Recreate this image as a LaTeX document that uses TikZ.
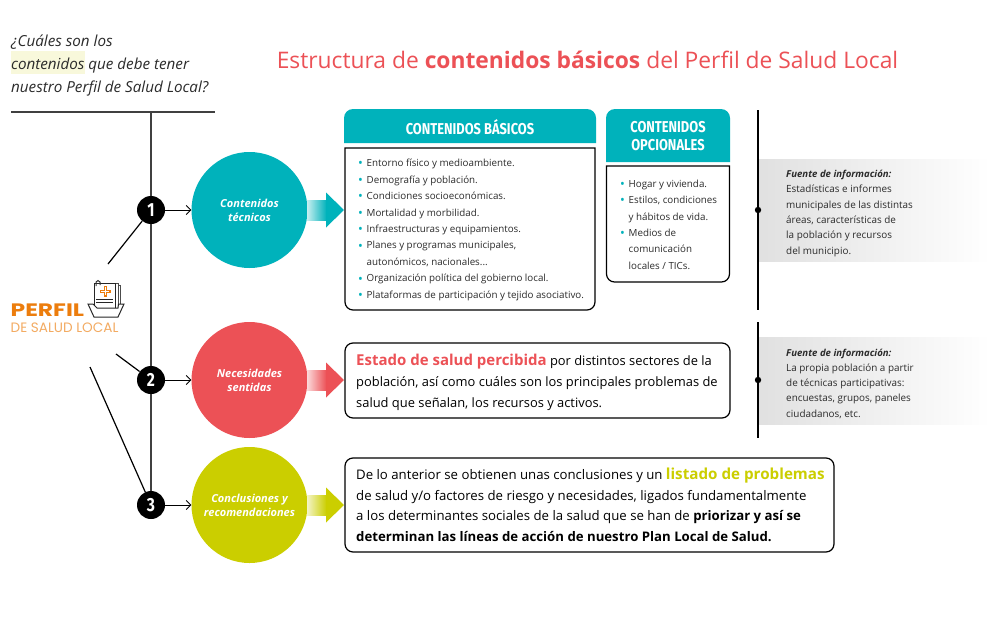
\documentclass[tikz,border=0pt]{standalone}
\usepackage{fontspec}
\setmainfont{Open Sans}
\newfontfamily\headfont[FakeStretch=0.82]{Fira Sans}
\newfontfamily\logofont{Poppins}
\usetikzlibrary{arrows.meta,shapes.misc}
\definecolor{cteal}{HTML}{00B2BB}
\definecolor{cred}{HTML}{EC5156}
\definecolor{cgreen}{HTML}{CBCE00}
\definecolor{corange}{HTML}{EC7D0D}
\definecolor{ctext}{HTML}{2B2B2B}
\newcommand{\bul}{\makebox[8.5pt][l]{\textcolor{cteal}{\raisebox{-1.2pt}{\scalebox{1.3}{\textbullet}}}}}
\newcommand{\ind}{\hspace*{8.5pt}}
\tikzset{
 x=1pt,y=-1pt,
 numdot/.style={circle,fill=black,text=white,minimum size=28pt,inner sep=0pt,font=\headfont\bfseries\fontsize{19}{19}\selectfont},
 bigcirc/.style={circle,minimum size=116pt,inner sep=0pt,text=white,align=center,font=\fontsize{11}{14}\selectfont\bfseries\itshape},
 thin line/.style={draw=black,line width=1.2pt},
 gline/.style={draw=black!75,line width=1.4pt},
 conn/.style={draw=black,line width=1pt,-{Straight Barb[length=4.5pt,width=9pt,line width=.9pt]}},
 txtbox/.style={draw=black,line width=1.2pt,rounded corners=8pt},
 listtxt/.style={anchor=north west,inner sep=0pt,align=left,text=ctext,font=\fontsize{9.8}{16.45}\selectfont},
 srctxt/.style={anchor=north west,inner sep=0pt,align=left,text=ctext,font=\fontsize{9.9}{15.3}\selectfont},
 bodytxt/.style={anchor=north west,inner sep=0pt,align=left,text=black,font=\fontsize{12.9}{21}\selectfont},
 headtxt/.style={text=white,align=center,inner sep=0pt,font=\headfont\bfseries\fontsize{15.7}{18}\selectfont},
}
\begin{document}
\begin{tikzpicture}
\useasboundingbox (0,0) rectangle (998,634);
\fill[white] (0,0) rectangle (998,634);
% grey bands
\shade[left color=black!12,right color=white] (759,159) rectangle (990,261);
\shade[left color=black!12,right color=white] (759,337) rectangle (990,424);
% question
\fill[cgreen!14] (11,51) rectangle (85,74);
\node[anchor=north west,inner sep=0pt,align=left,text=ctext,font=\fontsize{15.2}{23}\selectfont\itshape] (question) at (11,35) {¿Cuáles son los\\contenidos que debe tener\\nuestro Perfil de Salud Local?};
% title
\node[anchor=center,inner sep=0pt,text=cred,font=\fontsize{22.8}{26}\selectfont] (title) at (587.5,60) {Estructura de \textbf{contenidos básicos} del Perfil de Salud Local};
% rules
\coordinate (ruleL) at (11,112);
\coordinate (ruleR) at (215,112);
\coordinate (ruleM) at (151,112);
\draw[gline] (ruleL) -- (ruleR);
% numbers
\node[numdot] (n1) at (151,210) {1};
\node[numdot] (n2) at (151,380) {2};
\node[numdot] (n3) at (151,505) {3};
\draw[gline] (ruleM) -- (n1);
\draw[gline] (n1) -- (n2);
\draw[gline] (n2) -- (n3);
% big circles
\node[bigcirc,fill=cteal] (c1) at (249.5,210) {Contenidos\\técnicos};
\node[bigcirc,fill=cred] (c2) at (249.5,380) {Necesidades\\sentidas};
\node[bigcirc,fill=cgreen] (c3) at (249.5,505) {Conclusiones y\\recomendaciones};
\draw[conn] (n1) -- (c1);
\draw[conn] (n2) -- (c2);
\draw[conn] (n3) -- (c3);
% lines from logo
\coordinate (p1) at (108,264);
\coordinate (p2) at (116,354);
\coordinate (p3) at (90,367);
\draw[thin line] (p1) -- (n1);
\draw[thin line] (p2) -- (n2);
\draw[thin line] (p3) -- (n3);
% logo
\node[anchor=west,inner sep=0pt,text=corange,font=\logofont\bfseries\fontsize{18}{18}\selectfont] (perfil) at (10.5,310) {\scalebox{1.3}[1]{PERFIL}};
\node[anchor=west,inner sep=0pt,text=corange!65,font=\logofont\fontsize{13.6}{14}\selectfont] (salud) at (10.5,327.5) {DE SALUD LOCAL};
% icon
\begin{scope}[line width=.8pt,draw=black!85]
\draw[black!70] (115,283) -- (118,283) -- (118,306);
\draw[black!70] (118,285) -- (120,285) -- (120,304);
\draw[fill=white] (94,283) -- (115,283) -- (115,309) -- (94,309) -- cycle;
\draw[line width=1pt,black!80] (96,286) -- (96,282) -- (98,280.5) -- (100,282) -- (100,285);
\fill[corange] (103.5,286) rectangle (107,296.5);
\fill[corange] (100,289.5) rectangle (110.5,293);
\fill[white] (104.6,287.2) rectangle (105.9,295.3);
\fill[white] (101.2,290.6) rectangle (109.3,291.9);
\draw (96,299) -- (113,299) (96,302) -- (113,302);
\draw[fill=white,line width=1pt] (88,304) -- (93,304) -- (97,308) -- (118,308) -- (118.5,304) -- (124,304) -- (118,317) -- (94,317) -- cycle;
\end{scope}
% block arrows
\newcommand{\blockarrow}[2]{%
 \shade[left color=#1!22,right color=#1] (307,#2-10) rectangle (326.5,#2+10);
 \fill[#1] (326,#2-17.5) -- (344,#2) -- (326,#2+17.5) -- cycle;}
\blockarrow{cteal}{210}
\blockarrow{cred}{380}
\blockarrow{cgreen}{505}
% contenidos basicos
\fill[cteal] (344,143) [rounded corners=9pt] -- (344,109) -- (596,109) [sharp corners] -- (596,143) -- cycle;
\node[headtxt] (h1) at (470,127) {CONTENIDOS BÁSICOS};
\draw[txtbox,sharp corners] (345,148) -- (595,148) [rounded corners=8pt] -- (595,310) -- (345,310) [sharp corners] -- cycle;
\node[listtxt] (l1) at (358,159) {\bul Entorno físico y medioambiente.\\\bul Demografía y población.\\\bul Condiciones socioeconómicas.\\\bul Mortalidad y morbilidad.\\\bul Infraestructuras y equipamientos.\\\bul Planes y programas municipales,\\\ind autonómicos, nacionales...\\\bul Organización política del gobierno local.\\\bul Plataformas de participación y tejido asociativo.};
% opcionales
\fill[cteal] (606,162) [rounded corners=9pt] -- (606,109) -- (730,109) [sharp corners] -- (730,162) -- cycle;
\node[headtxt] (h2) at (668,136) {CONTENIDOS\\OPCIONALES};
\draw[txtbox,sharp corners] (606.5,166) -- (729.5,166) [rounded corners=8pt] -- (729.5,282) -- (606.5,282) [sharp corners] -- cycle;
\node[listtxt] (l2) at (620,179.5) {\bul Hogar y vivienda.\\\bul Estilos, condiciones\\\ind y hábitos de vida.\\\bul Medios de\\\ind comunicación\\\ind locales / TICs.};
% side rules
\coordinate (a1) at (758,110);
\coordinate (a2) at (758,310);
\coordinate (b1) at (758,322);
\coordinate (b2) at (758,438);
\draw[black,line width=1.6pt] (a1) -- (a2);
\draw[black,line width=1.6pt] (b1) -- (b2);
\fill[black] (758,210) circle (3.2);
\fill[black] (758,380) circle (3.2);
\node[srctxt] (s1) at (786,170) {{\fontsize{9.6}{15.3}\selectfont\textbf{\textit{Fuente de información:}}}\\Estadísticas e informes\\municipales de las distintas\\áreas, características de\\la población y recursos\\del municipio.};
\node[srctxt] (s2) at (786,348.5) {{\fontsize{9.6}{15.3}\selectfont\textbf{\textit{Fuente de información:}}}\\La propia población a partir\\de técnicas participativas:\\encuestas, grupos, paneles\\ciudadanos, etc.};
% text boxes
\draw[txtbox] (345,343) rectangle (730,418);
\node[bodytxt] (t1) at (356,353.5) {{\fontsize{15}{21}\selectfont\textcolor{cred}{\textbf{Estado de salud percibida}}} por distintos sectores de la\\población, así como cuáles son los principales problemas de\\salud que señalan, los recursos y activos.};
\draw[txtbox] (345,458) rectangle (834,552);
\node[bodytxt,font=\fontsize{13.2}{20.8}\selectfont] (t2) at (356,467.5) {De lo anterior se obtienen unas conclusiones y un {\fontsize{15.2}{20.8}\selectfont\textcolor{cgreen}{\textbf{listado de problemas}}}\\de salud y/o factores de riesgo y necesidades, ligados fundamentalmente\\a los determinantes sociales de la salud que se han de \textbf{priorizar y así se}\\\textbf{determinan las líneas de acción de nuestro Plan Local de Salud.}};
\end{tikzpicture}
\end{document}
